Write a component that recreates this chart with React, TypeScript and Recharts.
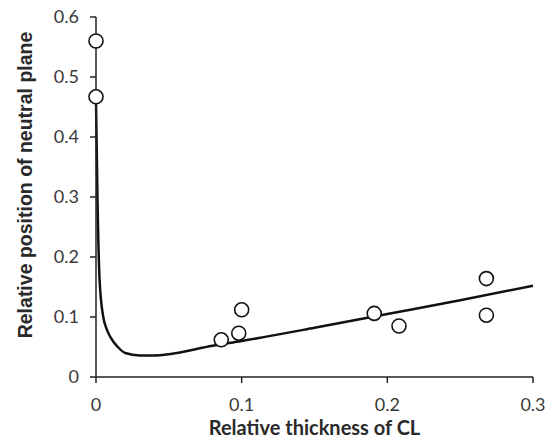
import { ComposedChart, Label, Line, Scatter, XAxis, YAxis } from "recharts";

// fitted curve
const curveX = [0, 0.001, 0.0025, 0.005, 0.007, 0.01, 0.015, 0.02, 0.03, 0.04, 0.05, 0.08, 0.1, 0.15, 0.2, 0.25, 0.3];
const curveY = [0.46, 0.3, 0.16, 0.1, 0.082, 0.066, 0.05, 0.04, 0.036, 0.036, 0.038, 0.052, 0.06, 0.082, 0.105, 0.128, 0.152];

// measured points
const pointX = [0, 0, 0.086, 0.098, 0.1, 0.191, 0.208, 0.268, 0.268];
const pointY = [0.56, 0.467, 0.062, 0.073, 0.112, 0.106, 0.085, 0.164, 0.103];

const xTicks = [0, 0.1, 0.2, 0.3];
const yTicks = [0, 0.1, 0.2, 0.3, 0.4, 0.5, 0.6];

const curve = curveX.map((x, i) => ({ x, y: curveY[i] }));
const points = pointX.map((x, i) => ({ x, y: pointY[i] }));

const tick = { fill: "#3a3a3a", fontSize: 18, fontFamily: "Lato" };
const axisLine = { stroke: "#222", strokeWidth: 1.5 };
const title = { fill: "#2a2a2a", fontSize: 20, fontWeight: 700, fontFamily: "Lato", textAnchor: "middle" as const };

const Ring = (p: any) => (
  <circle cx={p.cx} cy={p.cy} r={7} fill="#fff" stroke="#111" strokeWidth={1.6} />
);

// y title sits a bit above the axis centre in the original
const YTitle = () => (
  <text
    x={0}
    y={0}
    transform="translate(32 185) rotate(-90)"
    textAnchor="middle"
    fill="#2a2a2a"
    fontSize={19.5}
    fontWeight={700}
    fontFamily="Liberation Sans"
  >
    Relative position of neutral plane
  </text>
);

export default function App() {
  return (
    <div style={{ position: "absolute", left: 0, top: 0, background: "#fff" }}>
      <ComposedChart width={552} height={446} margin={{ top: 17, right: 19, bottom: 0, left: 0 }}>
        <XAxis
          type="number"
          dataKey="x"
          domain={[0, 0.3]}
          ticks={xTicks}
          tick={tick}
          tickSize={6}
          tickMargin={15}
          axisLine={axisLine}
          tickLine={axisLine}
          height={69}
        >
          <Label value="Relative thickness of CL" position="insideBottom" offset={11} style={title} />
        </XAxis>
        <YAxis
          type="number"
          dataKey="y"
          domain={[0, 0.6]}
          ticks={yTicks}
          tick={tick}
          tickSize={6}
          tickMargin={11}
          axisLine={axisLine}
          tickLine={axisLine}
          width={96}
        >
          <Label content={YTitle} />
        </YAxis>
        <Line
          data={curve}
          dataKey="y"
          type="monotone"
          stroke="#111"
          strokeWidth={2.5}
          dot={false}
          isAnimationActive={false}
        />
        <Scatter data={points} dataKey="y" shape={Ring} isAnimationActive={false} />
      </ComposedChart>
    </div>
  );
}
